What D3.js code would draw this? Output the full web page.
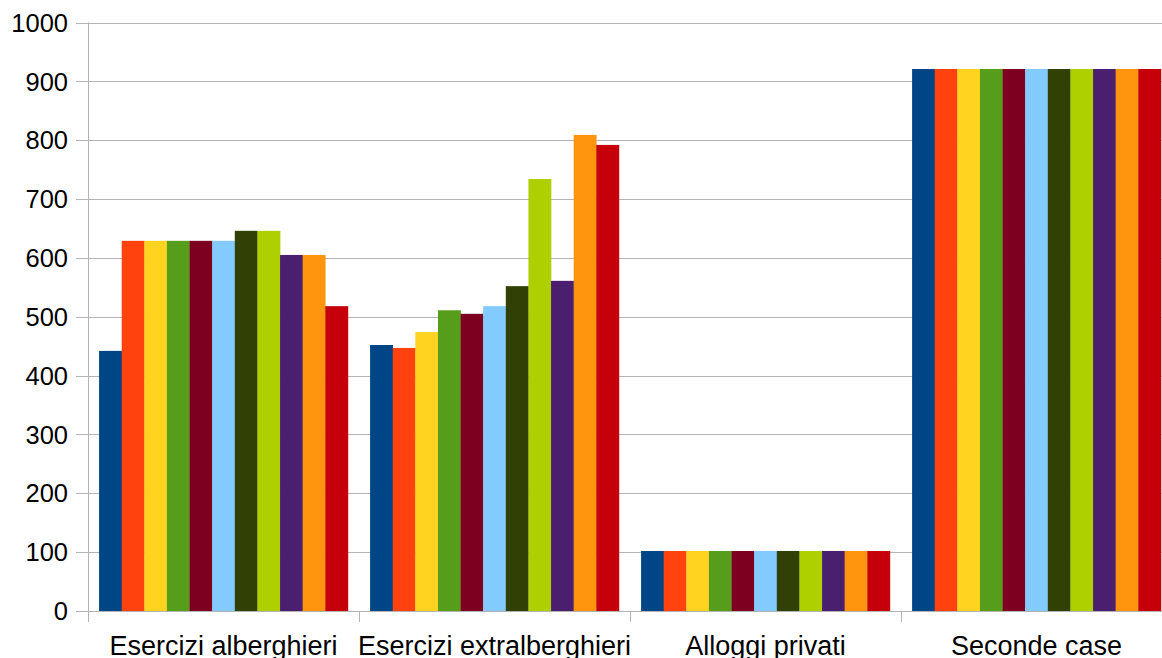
<!DOCTYPE html>
<html><head><meta charset="utf-8">
<script src="https://cdn.jsdelivr.net/npm/d3@7"></script>
<style>html,body{margin:0;padding:0;background:#fff;overflow:hidden}</style>
</head><body>
<svg id="chart" width="1162" height="658"></svg>
<script>
const categories = ["Esercizi alberghieri", "Esercizi extralberghieri", "Alloggi privati", "Seconde case"];
const seriesNames = ["S1","S2","S3","S4","S5","S6","S7","S8","S9","S10","S11"];
const values = [
  [442, 629, 629, 629, 629, 629, 646, 646, 605, 605, 518],
  [452, 447, 474, 511, 505, 518, 552, 734, 561, 809, 792],
  [102, 102, 102, 102, 102, 102, 102, 102, 102, 102, 102],
  [921, 921, 921, 921, 921, 921, 921, 921, 921, 921, 921]
];
const colors = ["#004586","#ff420e","#ffd320","#579d1c","#7e0021","#83caff","#314004","#aecf00","#4b1f6f","#ff950e","#c5000b"];
const yTicks = [0,100,200,300,400,500,600,700,800,900,1000];

const svg = d3.select("#chart");
const pLeft = 88, pRight = 1172, pTop = 22.5, pBottom = 611;
const x0 = d3.scaleBand().domain(categories).range([pLeft, pRight]).paddingInner(0).paddingOuter(0);
const x1 = d3.scaleBand().domain(seriesNames).range([0, x0.bandwidth()]).paddingOuter(0.49).paddingInner(0);
const y = d3.scaleLinear().domain([0, 1000]).range([pBottom, pTop]);
const font = "'Liberation Sans', Arial, sans-serif";

// gridlines
svg.append("g").selectAll("line").data(yTicks).join("line")
  .attr("x1", pLeft - 12).attr("x2", 1162)
  .attr("y1", d => Math.round(y(d)) + 0.5).attr("y2", d => Math.round(y(d)) + 0.5)
  .attr("stroke", "#b3b3b3").attr("stroke-width", 1);

// y axis line
svg.append("line").attr("x1", pLeft + 0.5).attr("x2", pLeft + 0.5)
  .attr("y1", pTop).attr("y2", pBottom + 11).attr("stroke", "#b3b3b3");

// y labels
svg.append("g").selectAll("text").data(yTicks).join("text")
  .attr("x", 68).attr("y", d => y(d)).attr("dy", "0.36em")
  .attr("text-anchor", "end").attr("font-family", font).attr("font-size", 25.5)
  .attr("fill", "#000").text(d => d);

// bars
const g = svg.append("g").selectAll("g").data(categories).join("g")
  .attr("transform", d => `translate(${x0(d)},0)`);
g.selectAll("rect").data((d, i) => values[i].map((v, j) => ({v, s: seriesNames[j], c: colors[j]})))
  .join("rect")
  .attr("x", d => x1(d.s)).attr("width", x1.bandwidth() + 0.3)
  .attr("y", d => y(d.v)).attr("height", d => y(0) - y(d.v))
  .attr("fill", d => d.c);

// x axis baseline
svg.append("line").attr("x1", pLeft).attr("x2", 1162)
  .attr("y1", pBottom + 0.5).attr("y2", pBottom + 0.5).attr("stroke", "#b3b3b3");
// category separator ticks
svg.append("g").selectAll("line").data(categories.slice(1)).join("line")
  .attr("x1", d => Math.round(x0(d)) + 0.5).attr("x2", d => Math.round(x0(d)) + 0.5)
  .attr("y1", pBottom).attr("y2", pBottom + 11).attr("stroke", "#b3b3b3");

// category labels
svg.append("g").selectAll("text").data(categories).join("text")
  .attr("x", d => x0(d) + x0.bandwidth() / 2).attr("y", 655)
  .attr("text-anchor", "middle").attr("font-family", font).attr("font-size", 27)
  .attr("fill", "#000").text(d => d);
</script>
</body></html>
